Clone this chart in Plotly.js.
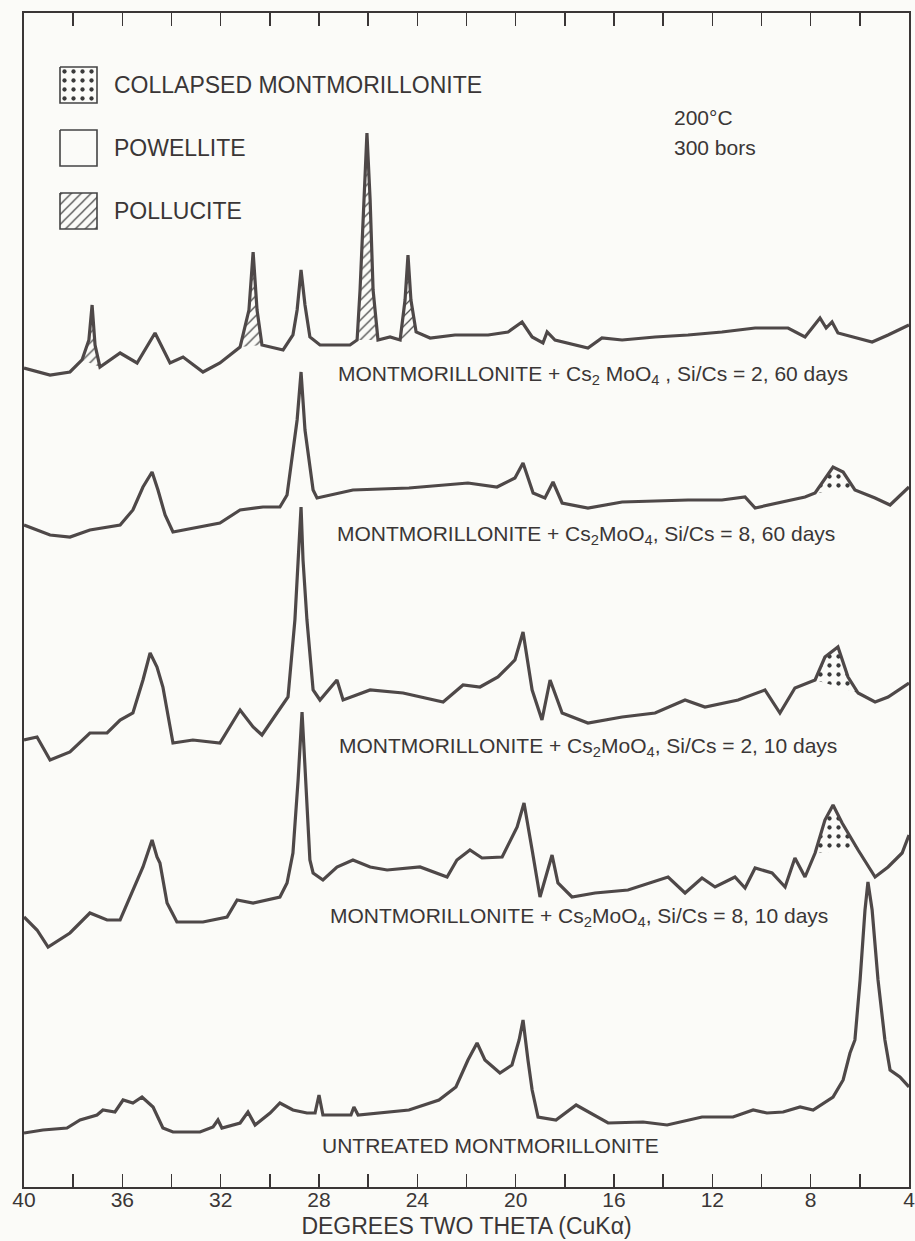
<!DOCTYPE html>
<html>
<head>
<meta charset="utf-8">
<script src="https://cdn.plot.ly/plotly-3.0.1.min.js"></script>
<style>
  html, body { margin: 0; padding: 0; background: #fbfbf8; }
  #chart { width: 915px; height: 1241px; }
</style>
</head>
<body>
<div id="chart"></div>
<script>
// ---------------- DATA ----------------
// Degrees two theta (CuKa) and stacked intensity (arbitrary units, offset per pattern)

// Montmorillonite + Cs2MoO4, Si/Cs = 2, 60 days
const theta1 = [40.00, 38.94, 38.13, 37.64, 37.36, 37.23, 37.11, 36.91, 36.09, 35.40, 34.67, 34.06, 33.53, 32.72, 32.03, 31.21, 30.85, 30.68, 30.52, 30.32, 29.46, 29.06, 28.89, 28.73, 28.57, 28.37, 27.96, 26.74, 26.45, 26.33, 26.17, 26.05, 25.92, 25.80, 25.60, 25.11, 24.70, 24.50, 24.38, 24.26, 24.05, 23.48, 22.47, 21.12, 20.31, 19.74, 19.33, 18.89, 18.72, 18.40, 17.06, 16.49, 15.67, 14.33, 12.99, 11.61, 10.26, 8.92, 8.23, 7.62, 7.37, 7.13, 6.89, 5.50, 4.85, 4.00];
const counts1 = [819, 812, 815, 827, 847, 882, 842, 820, 834, 824, 854, 824, 830, 815, 824, 840, 877, 935, 877, 842, 837, 852, 877, 917, 882, 850, 842, 842, 847, 897, 987, 1054, 987, 897, 847, 850, 847, 887, 932, 887, 855, 849, 852, 852, 855, 865, 850, 844, 855, 847, 839, 849, 847, 850, 852, 855, 859, 859, 850, 869, 859, 865, 854, 845, 852, 862];

// Montmorillonite + Cs2MoO4, Si/Cs = 8, 60 days
const theta2 = [40.00, 38.94, 38.13, 37.32, 36.09, 35.57, 35.16, 34.87, 34.79, 34.55, 34.26, 33.94, 32.84, 32.03, 31.21, 30.28, 29.59, 29.30, 28.89, 28.73, 28.57, 28.24, 28.08, 26.62, 24.34, 21.94, 20.76, 20.03, 19.70, 19.29, 18.81, 18.48, 18.11, 17.06, 15.67, 12.99, 11.61, 10.67, 10.26, 8.23, 7.82, 7.54, 7.09, 6.68, 6.20, 5.38, 4.77, 4.00];
const counts2 = [662, 652, 650, 657, 662, 677, 700, 712, 715, 697, 672, 655, 660, 664, 677, 680, 680, 692, 767, 815, 757, 697, 689, 697, 699, 704, 700, 709, 724, 694, 689, 705, 684, 679, 685, 687, 687, 690, 679, 690, 694, 704, 720, 715, 697, 689, 682, 700];

// Montmorillonite + Cs2MoO4, Si/Cs = 2, 10 days
const theta3 = [40.00, 39.47, 38.94, 38.13, 37.32, 36.62, 36.09, 35.57, 35.16, 34.87, 34.59, 34.35, 33.94, 33.13, 32.03, 31.21, 30.68, 30.32, 29.71, 29.26, 28.98, 28.73, 28.65, 28.49, 28.24, 27.96, 27.27, 27.02, 25.92, 24.58, 22.95, 22.14, 21.45, 20.72, 20.03, 19.70, 19.33, 18.93, 18.60, 18.11, 17.06, 15.67, 14.33, 13.11, 12.30, 10.95, 9.86, 9.25, 8.64, 7.82, 7.42, 6.89, 6.48, 6.07, 5.38, 4.85, 4.00];
const counts3 = [447, 450, 427, 435, 454, 454, 467, 474, 507, 534, 520, 500, 444, 447, 444, 477, 460, 452, 474, 490, 567, 680, 627, 567, 497, 487, 507, 487, 497, 494, 485, 502, 500, 510, 527, 555, 497, 467, 507, 474, 464, 470, 474, 487, 480, 487, 497, 474, 499, 507, 530, 540, 510, 494, 485, 490, 504];

// Montmorillonite + Cs2MoO4, Si/Cs = 8, 10 days
const theta4 = [40.00, 39.47, 39.02, 38.13, 37.32, 36.62, 36.09, 35.69, 35.16, 34.79, 34.59, 34.47, 34.18, 33.78, 32.72, 31.74, 31.33, 30.68, 29.59, 29.30, 29.06, 28.85, 28.69, 28.57, 28.37, 28.24, 27.84, 27.27, 26.62, 25.92, 25.23, 23.89, 22.79, 22.39, 21.86, 21.37, 20.55, 19.94, 19.66, 19.33, 19.01, 18.52, 18.28, 17.71, 16.77, 15.43, 13.80, 13.11, 12.42, 11.89, 11.08, 10.67, 10.26, 9.57, 9.04, 8.64, 8.23, 7.82, 7.42, 7.09, 6.72, 6.07, 5.38, 4.85, 4.28, 4.00];
const counts4 = [270, 257, 240, 254, 274, 267, 267, 290, 320, 347, 330, 324, 284, 265, 265, 270, 287, 284, 290, 304, 334, 407, 475, 420, 327, 314, 307, 320, 327, 320, 317, 320, 310, 327, 337, 329, 330, 360, 384, 337, 290, 332, 304, 290, 294, 297, 310, 294, 309, 300, 310, 299, 319, 314, 300, 329, 310, 334, 367, 382, 364, 337, 310, 320, 334, 352];

// Untreated montmorillonite
const theta5 = [40.00, 39.23, 38.25, 37.72, 37.03, 36.79, 36.30, 35.97, 35.57, 35.20, 34.75, 34.35, 33.94, 32.84, 32.31, 32.11, 31.95, 31.21, 30.89, 30.60, 29.99, 29.59, 29.06, 28.49, 28.16, 28.00, 27.84, 26.70, 26.58, 26.41, 24.34, 23.12, 22.43, 21.94, 21.57, 21.25, 20.64, 20.15, 19.86, 19.70, 19.50, 19.33, 19.09, 18.36, 17.54, 16.24, 14.82, 13.84, 12.42, 11.16, 10.34, 9.78, 9.12, 8.43, 7.90, 7.09, 6.68, 6.40, 6.20, 5.99, 5.79, 5.67, 5.50, 5.26, 4.98, 4.77, 4.37, 4.00];
const counts5 = [54, 57, 59, 67, 72, 77, 75, 87, 84, 90, 80, 59, 55, 55, 60, 67, 59, 64, 75, 62, 74, 84, 77, 74, 74, 92, 72, 72, 80, 72, 77, 87, 100, 127, 144, 127, 114, 122, 147, 167, 127, 97, 70, 67, 82, 64, 65, 62, 70, 70, 77, 74, 75, 80, 77, 90, 107, 134, 147, 207, 277, 305, 277, 207, 147, 117, 110, 100];

// Peak ranges (2-theta) of the marked phases
const pollucitePeaks = [[36.9, 37.7], [30.3, 31.25], [25.55, 26.5], [24.0, 24.75]]; // on pattern 1
const collapsedPeaks2 = [[6.15, 7.9]];
const collapsedPeaks3 = [[6.0, 7.9]];
const collapsedPeaks4 = [[6.0, 7.9]];

// Text
const patternLabels = [
  'MONTMORILLONITE + Cs<sub>2</sub> MoO<sub>4</sub> , Si/Cs = 2, 60 days',
  'MONTMORILLONITE + Cs<sub>2</sub>MoO<sub>4</sub>, Si/Cs = 8, 60 days',
  'MONTMORILLONITE + Cs<sub>2</sub>MoO<sub>4</sub>, Si/Cs = 2, 10 days',
  'MONTMORILLONITE + Cs<sub>2</sub>MoO<sub>4</sub>, Si/Cs = 8, 10 days',
  'UNTREATED MONTMORILLONITE'
];
const legendLabels = ['COLLAPSED MONTMORILLONITE', 'POWELLITE', 'POLLUCITE'];
const conditionLabels = ['200°C', '300 bors'];
const majorTicks = [40, 36, 32, 28, 24, 20, 16, 12, 8, 4];
const majorTickLabels = ['40', '36', '32', '28', '24', '20', '16', '12', '8', '4'];
const minorTicks = [38, 34, 30, 26, 22, 18, 14, 10, 6];
const xTitle = 'DEGREES TWO THETA (CuKα)';

// ---------------- STYLE ----------------
const FONT = 'Liberation Sans, Arial, Helvetica, sans-serif';
const INK = '#3a3636';
const LINE = '#4e4848';
const BG = '#fbfbf8';

// helper-axis layout (pixels inside the plotting frame)
const labelPos = [[312, 362], [311, 522], [313, 734], [304, 904], [296, 1132]];
const legendBox = {x0: 36, x1: 73, tops: [54, 117, 180], h: 36, textX: 88};
const condPos = [[648, 104], [648, 134]];

function polys(xs, ys, ranges) {
  const px = [], py = [];
  ranges.forEach((r, k) => {
    const lo = Math.min(r[0], r[1]), hi = Math.max(r[0], r[1]);
    xs.forEach((v, i) => { if (v >= lo && v <= hi) { px.push(v); py.push(ys[i]); } });
    if (k < ranges.length - 1) { px.push(null); py.push(null); }
  });
  return {x: px, y: py};
}

const hatch = {shape: '/', fgcolor: '#4a4a4a', bgcolor: 'rgba(0,0,0,0)', size: 7, solidity: 0.18};
const dots = {shape: '.', fgcolor: '#3a3a3a', bgcolor: 'rgba(0,0,0,0)', size: 9, solidity: 0.18};

const traces = [];
function fillTrace(p, pattern) {
  return {x: p.x, y: p.y, type: 'scatter', mode: 'none', fill: 'toself',
    fillcolor: 'rgba(0,0,0,0)', fillpattern: pattern, hoverinfo: 'skip', showlegend: false};
}
traces.push(fillTrace(polys(theta1, counts1, pollucitePeaks), hatch));
traces.push(fillTrace(polys(theta2, counts2, collapsedPeaks2), dots));
traces.push(fillTrace(polys(theta3, counts3, collapsedPeaks3), dots));
traces.push(fillTrace(polys(theta4, counts4, collapsedPeaks4), dots));

const series = [[theta1, counts1], [theta2, counts2], [theta3, counts3], [theta4, counts4], [theta5, counts5]];
series.forEach((s, i) => {
  traces.push({x: s[0], y: s[1], type: 'scatter', mode: 'lines', name: patternLabels[i],
    line: {color: LINE, width: 3.2}, showlegend: false});
});

// legend swatches (drawn on the helper axes)
const swPatterns = [dots, null, hatch];
legendBox.tops.forEach((t, i) => {
  const tr = {x: [legendBox.x0, legendBox.x1, legendBox.x1, legendBox.x0, legendBox.x0],
    y: [t, t, t + legendBox.h, t + legendBox.h, t], xaxis: 'x2', yaxis: 'y2',
    type: 'scatter', mode: 'lines', line: {color: '#444', width: 1.6},
    fill: 'toself', fillcolor: 'rgba(0,0,0,0)', hoverinfo: 'skip', showlegend: false};
  if (swPatterns[i]) tr.fillpattern = swPatterns[i];
  traces.push(tr);
});

const annotations = [];
patternLabels.forEach((t, i) => {
  annotations.push({text: t, xref: 'x2', yref: 'y2', x: labelPos[i][0], y: labelPos[i][1],
    xanchor: 'left', yanchor: 'middle', showarrow: false, font: {family: FONT, size: 21, color: INK}});
});
legendLabels.forEach((t, i) => {
  annotations.push({text: t, xref: 'x2', yref: 'y2', x: legendBox.textX, y: legendBox.tops[i] + legendBox.h / 2,
    xanchor: 'left', yanchor: 'middle', showarrow: false, font: {family: FONT, size: 23, color: INK}});
});
conditionLabels.forEach((t, i) => {
  annotations.push({text: t, xref: 'x2', yref: 'y2', x: condPos[i][0], y: condPos[i][1],
    xanchor: 'left', yanchor: 'middle', showarrow: false, font: {family: FONT, size: 21, color: INK}});
});

const layout = {
  width: 915, height: 1241,
  margin: {l: 24, r: 6, t: 13, b: 54},
  paper_bgcolor: BG, plot_bgcolor: BG,
  showlegend: false,
  xaxis: {
    range: [40, 4], tickmode: 'array', tickvals: majorTicks, ticktext: majorTickLabels,
    ticks: 'inside', ticklen: 13, tickwidth: 1.5, tickcolor: INK,
    minor: {tickmode: 'array', tickvals: minorTicks, ticks: 'inside', ticklen: 13, tickwidth: 1.5, tickcolor: INK, showgrid: false},
    showline: true, linecolor: INK, linewidth: 2, mirror: 'ticks',
    showgrid: false, zeroline: false, ticklabeloverflow: 'allow',
    ticklabelstandoff: -7,
    tickfont: {family: FONT, size: 21, color: INK},
    title: {text: xTitle, font: {family: FONT, size: 23, color: INK}, standoff: 8}
  },
  yaxis: {
    range: [0, 1174], showticklabels: false, ticks: '', showgrid: false, zeroline: false,
    showline: true, linecolor: INK, linewidth: 2, mirror: true
  },
  xaxis2: {overlaying: 'x', range: [0, 885], visible: false, fixedrange: true},
  yaxis2: {overlaying: 'y', range: [1174, 0], visible: false, fixedrange: true},
  annotations: annotations
};

Plotly.newPlot('chart', traces, layout, {displayModeBar: false, staticPlot: true});
</script>
</body>
</html>
